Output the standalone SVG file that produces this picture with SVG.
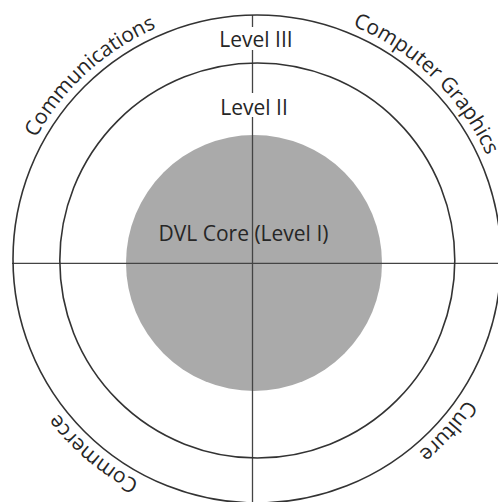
<svg xmlns="http://www.w3.org/2000/svg" xmlns:xlink="http://www.w3.org/1999/xlink" width="498" height="502" viewBox="0 0 498 502">
  <style>
    .ring { fill: none; stroke: #333333; stroke-width: 1.6; }
    .axis { fill: none; stroke: #444444; stroke-width: 1.3; }
    .lbl { font-family: "Open Sans", "Noto Sans", "Liberation Sans", sans-serif; font-size: 21px; fill: #262626; }
  </style>
  <defs>
    <path id="labelCircle" d="M509 259 A252 252 0 1 1 5 259 A252 252 0 1 1 509 259"/>
  </defs>
  <rect width="498" height="502" fill="#ffffff"/>
  <g id="core">
    <circle cx="254" cy="263" r="128" fill="#aaaaaa"/>
  </g>
  <g id="connectors">
    <path class="axis" d="M252.5 15 V27 M252.5 50 V93 M252.5 117 V502"/>
    <path class="axis" d="M12 263.3 H498"/>
  </g>
  <g id="level2">
    <circle class="ring" cx="257.3" cy="260.5" r="197.5"/>
    <text class="lbl" x="254" y="115" text-anchor="middle">Level II</text>
  </g>
  <g id="level3">
    <circle class="ring" cx="257" cy="259" r="244"/>
    <text class="lbl" x="256" y="47" text-anchor="middle">Level III</text>
  </g>
  <g id="core-label">
    <text class="lbl" x="243.5" y="240.5" text-anchor="middle">DVL Core (Level I)</text>
  </g>
  <g id="domains">
    <text class="lbl" text-anchor="middle"><textPath xlink:href="#labelCircle" href="#labelCircle" startOffset="1000.6">Communications</textPath></text>
    <text class="lbl" text-anchor="middle"><textPath xlink:href="#labelCircle" href="#labelCircle" startOffset="1380.5">Computer Graphics</textPath></text>
    <text class="lbl" text-anchor="middle"><textPath xlink:href="#labelCircle" href="#labelCircle" startOffset="184.7">Culture</textPath></text>
    <text class="lbl" text-anchor="middle"><textPath xlink:href="#labelCircle" href="#labelCircle" startOffset="571.8">Commerce</textPath></text>
  </g>
</svg>
